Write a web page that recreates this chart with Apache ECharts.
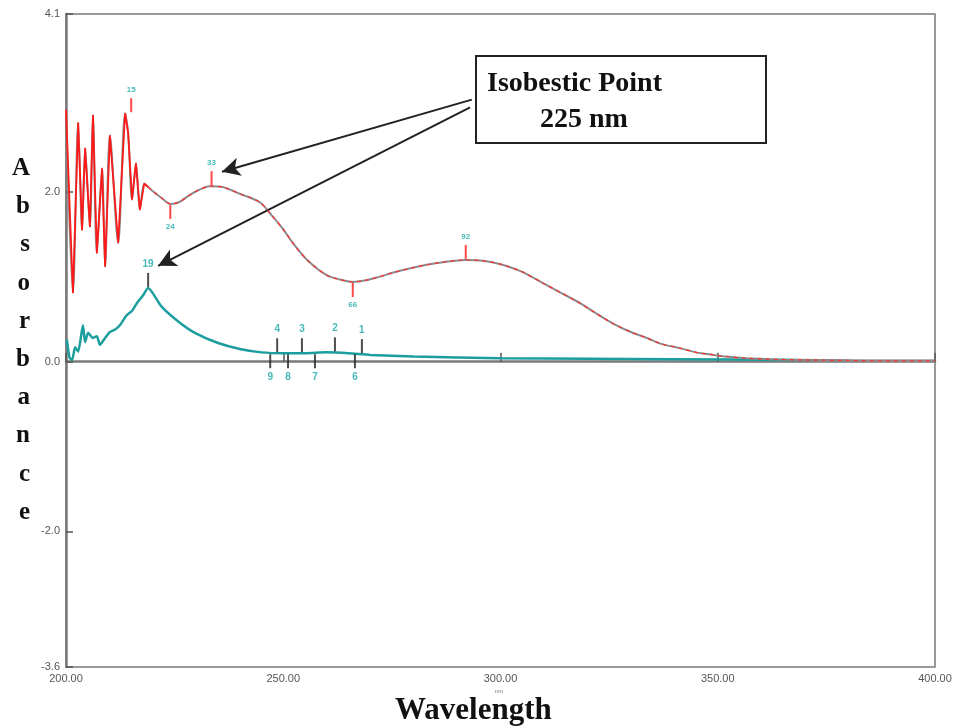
<!DOCTYPE html>
<html>
<head>
<meta charset="utf-8">
<script src="https://cdn.jsdelivr.net/npm/echarts@6/dist/echarts.min.js"></script>
<style>html,body{margin:0;padding:0;background:#fff}#c{width:958px;height:727px}</style>
</head>
<body>
<div id="c"></div>
<script>
// ---- data ----
var redWavelengths = [200.0,201.6,202.8,203.7,204.4,205.5,206.2,207.1,208.3,209.0,210.1,212.0,213.6,214.3,215.2,216.1,217.0,218.0,218.9,220,222,224,226,228,230,233,236,240,244.6,247.6,250,252.2,255.5,260,263,266,269,272,276,280,285,292,296,300,305,310,314,318.3,322,325.9,330,333.7,337,341.3,345,349,352,356.7,362,370,380,390,400];
var redValues      = [2.97,0.81,2.82,1.55,2.52,1.59,2.91,1.28,2.28,1.12,2.67,1.40,2.93,2.70,1.91,2.34,1.79,2.10,2.06,2.01,1.93,1.86,1.88,1.95,2.01,2.07,2.06,1.98,1.88,1.71,1.56,1.40,1.20,1.02,0.97,0.94,0.96,1.00,1.06,1.11,1.16,1.20,1.19,1.15,1.06,0.92,0.81,0.69,0.57,0.45,0.35,0.28,0.21,0.16,0.11,0.08,0.06,0.04,0.03,0.02,0.015,0.01,0.01];
var tealWavelengths = [200.2,200.8,201.4,202.1,202.8,203.9,204.4,205.1,206.2,207.1,207.8,209.0,210.1,211.3,212.4,214.0,215.2,216.3,217.7,218.9,222,226.2,230,235,240,245,250,255,260,265,270,280,300,340,368];
var tealValues      = [0.26,0.05,0.02,0.17,0.12,0.43,0.23,0.34,0.28,0.30,0.20,0.28,0.35,0.38,0.43,0.55,0.60,0.69,0.78,0.87,0.65,0.46,0.33,0.22,0.15,0.11,0.10,0.10,0.11,0.10,0.08,0.06,0.04,0.03,0.02];
var baseWavelengths = [368,380,400];
var baseValues      = [0.02,0.015,0.01];

// peak-pick markers
var redMarkWl   = [215.0, 224.0, 233.5, 266.0, 292.0];
var redMarkVal  = [2.93, 1.86, 2.07, 0.94, 1.20];
var redMarkDir  = ['up','down','up','down','up'];
var redMarkTxt  = ['15','24','33','66','92'];
var tealMarkWl  = [218.9, 247.0, 248.6, 251.1, 254.3, 257.3, 261.9, 266.5, 268.1];
var tealMarkVal = [0.87, 0.10, 0.10, 0.10, 0.10, 0.10, 0.11, 0.10, 0.09];
var tealMarkDir = ['up','down','up','down','up','down','up','down','up'];
var tealMarkTxt = ['19','9','4','8','3','7','2','6','1'];

var yTicks = [4.1, 2.0, 0.0, -2.0, -3.6];
var xTicks = [200, 250, 300, 350, 400];

function pairs(xs, ys, filt) {
  var out = [];
  for (var i = 0; i < xs.length; i++) if (!filt || filt(xs[i])) out.push([xs[i], ys[i]]);
  return out;
}
function markData(xs, ys, dirs, txt) {
  return xs.map(function (x, i) {
    var up = dirs[i] === 'up';
    return {
      value: [x, ys[i]],
      symbolOffset: [0, up ? -8 : 8],
      label: { position: up ? 'top' : 'bottom', formatter: txt[i], distance: 4 }
    };
  });
}

var chart = echarts.init(document.getElementById('c'), null, { renderer: 'canvas' });
var serif = '"Liberation Serif","DejaVu Serif",serif';
chart.setOption({
  animation: false,
  backgroundColor: '#ffffff',
  grid: { left: 66, right: 23, top: 14, bottom: 60, outerBoundsMode: 'none', containLabel: false,
          show: true, borderColor: '#7a7a7a', borderWidth: 1.5 },
  xAxis: {
    type: 'value', min: 200, max: 400, interval: 50,
    axisLine: { lineStyle: { color: '#7a7a7a', width: 2.5 } },
    axisTick: { inside: true, length: 9, lineStyle: { color: '#555', width: 1.5 } },
    axisLabel: { color: '#555', fontSize: 11, fontFamily: 'Liberation Sans', margin: 6,
      formatter: function (v) { return v.toFixed(2); } },
    splitLine: { show: false }
  },
  yAxis: {
    type: 'value', min: -3.6, max: 4.1,
    axisLine: { show: true, lineStyle: { color: '#7a7a7a', width: 2.5 } },
    axisTick: { show: true, inside: true, length: 7, customValues: yTicks, lineStyle: { color: '#555', width: 1.5 } },
    axisLabel: { color: '#555', fontSize: 11, fontFamily: 'Liberation Sans', margin: 6, customValues: yTicks,
      formatter: function (v) { return v.toFixed(1); } },
    splitLine: { show: false },
    name: 'A\nb\ns\no\nr\nb\na\nn\nc\ne', nameLocation: 'middle', nameRotate: 0, nameGap: 36,
    nameTextStyle: { fontFamily: serif, fontWeight: 'bold', fontSize: 25, color: '#111', lineHeight: 38.2 }
  },
  series: [
    { type: 'line', data: pairs(tealWavelengths, tealValues), showSymbol: false, smooth: 0.2,
      lineStyle: { color: '#1c9e9e', width: 2.5 }, z: 3 },
    { type: 'line', data: pairs(baseWavelengths, baseValues), showSymbol: false,
      lineStyle: { color: '#8a8a8a', width: 2.5 }, z: 3 },
    { type: 'line', data: pairs(redWavelengths, redValues), showSymbol: false, smooth: 0.3,
      lineStyle: { color: '#8c8c8c', width: 2 }, z: 4 },
    { type: 'line', data: pairs(redWavelengths, redValues, function (x) { return x <= 219; }), showSymbol: false, smooth: 0,
      lineStyle: { color: '#ff1a1a', width: 1.8 }, z: 5 },
    { type: 'line', data: pairs(redWavelengths, redValues, function (x) { return x >= 218.9; }), showSymbol: false, smooth: 0.3,
      lineStyle: { color: '#ff3030', width: 1.2, type: [4, 4] }, z: 5 },
    { type: 'scatter', data: markData(redMarkWl, redMarkVal, redMarkDir, redMarkTxt),
      symbol: 'rect', symbolSize: [2, 14], itemStyle: { color: '#ff1a1a' }, z: 6,
      label: { show: true, color: '#1aa6a6', fontSize: 8, fontWeight: 'bold', fontFamily: 'Liberation Sans' } },
    { type: 'scatter', data: markData(tealMarkWl, tealMarkVal, tealMarkDir, tealMarkTxt),
      symbol: 'rect', symbolSize: [2, 14], itemStyle: { color: '#222' }, z: 6,
      label: { show: true, color: '#1aa6a6', fontSize: 10, fontWeight: 'bold', fontFamily: 'Liberation Sans' },
      markLine: {
        silent: true, symbol: ['none', 'arrow'], symbolSize: [14, 18],
        lineStyle: { color: '#222', width: 2, type: 'solid' }, label: { show: false },
        data: [
          [{ coord: [293.4, 3.09] }, { coord: [235.9, 2.24] }],
          [{ coord: [293.0, 3.00] }, { coord: [221.2, 1.13] }]
        ]
      } }
  ],
  graphic: [
    { type: 'rect', left: 475, top: 55, shape: { width: 290, height: 87 },
      style: { fill: '#fff', stroke: '#222', lineWidth: 2 }, z: 10 },
    { type: 'text', left: 487, top: 70, z: 11,
      style: { text: 'Isobestic Point', font: 'bold 28px ' + serif, fill: '#111' } },
    { type: 'text', left: 540, top: 106, z: 11,
      style: { text: '225 nm', font: 'bold 28px ' + serif, fill: '#111' } },
    { type: 'text', left: 395, top: 695, z: 11,
      style: { text: 'Wavelength', font: 'bold 31px ' + serif, fill: '#111' } },
    { type: 'text', left: 495, top: 688, z: 11,
      style: { text: 'nm', font: '6px Liberation Sans', fill: '#777' } }
  ]
});
</script>
</body>
</html>
